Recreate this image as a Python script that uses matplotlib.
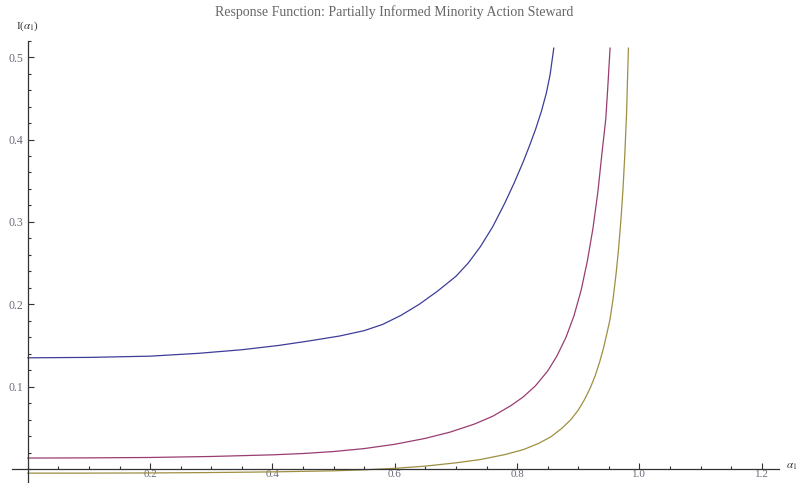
import numpy as np
import matplotlib.pyplot as plt
from matplotlib.ticker import MultipleLocator

plt.rcParams['font.family'] = ['Liberation Serif', 'DejaVu Serif']
plt.rcParams['mathtext.fontset'] = 'stix'

# values
blue_x = [0.0, 0.1, 0.2, 0.28, 0.35, 0.41, 0.46, 0.51, 0.55, 0.58, 0.61, 0.64,
          0.67, 0.70, 0.72, 0.74, 0.76, 0.78, 0.795, 0.81, 0.82, 0.83, 0.84,
          0.848, 0.854, 0.860]
blue_y = [0.135, 0.1355, 0.137, 0.1405, 0.1448, 0.150, 0.1555, 0.1615, 0.168, 0.1755,
          0.1865, 0.200, 0.216, 0.234, 0.250, 0.270, 0.294, 0.323, 0.347, 0.373,
          0.392, 0.412, 0.435, 0.457, 0.479, 0.511]

purple_x = [0.0, 0.1, 0.2, 0.3, 0.4, 0.45, 0.5, 0.55, 0.6, 0.65, 0.69, 0.73, 0.76,
            0.79, 0.81, 0.83, 0.85, 0.865, 0.88, 0.893, 0.905, 0.915, 0.924,
            0.932, 0.939, 0.945, 0.948, 0.952]
purple_y = [0.0133, 0.0135, 0.0140, 0.0152, 0.0172, 0.0188, 0.0212, 0.0248, 0.0300,
            0.0372, 0.0447, 0.0545, 0.064, 0.077, 0.0875, 0.101, 0.119, 0.137,
            0.160, 0.186, 0.218, 0.253, 0.292, 0.336, 0.385, 0.425, 0.460, 0.511]

olive_x = [0.0, 0.1, 0.2, 0.3, 0.4, 0.5, 0.55, 0.6, 0.65, 0.70, 0.74, 0.78, 0.81,
           0.835, 0.855, 0.873, 0.888, 0.90, 0.91, 0.92, 0.928, 0.935, 0.941,
           0.947, 0.952, 0.957, 0.962, 0.966, 0.970, 0.973, 0.976, 0.979, 0.982]
olive_y = [-0.005, -0.005, -0.0048, -0.0043, -0.0035, -0.0022, -0.001, 0.0008,
           0.0035, 0.0075, 0.0115, 0.0175, 0.0235, 0.031, 0.039, 0.0493, 0.060,
           0.0715, 0.084, 0.099, 0.114, 0.130, 0.146, 0.165, 0.182, 0.207, 0.238,
           0.268, 0.305, 0.338, 0.380, 0.432, 0.511]

fig = plt.figure(figsize=(7.98, 4.83), dpi=100)
ax = fig.add_axes([0.015, 0.0, 0.961, 0.9157])

ax.plot(blue_x, blue_y, color='#3d3d99', lw=0.9)
ax.plot(purple_x, purple_y, color='#993d71', lw=0.9)
ax.plot(olive_x, olive_y, color='#9e8f42', lw=0.9)

ax.set_xlim(-0.026, 1.228)
ax.set_ylim(-0.017, 0.52)

for s in ['top', 'right']:
    ax.spines[s].set_visible(False)
ax.spines['left'].set_position(('data', 0))
ax.spines['bottom'].set_position(('data', 0))
for s in ['left', 'bottom']:
    ax.spines[s].set_linewidth(0.9)
    ax.spines[s].set_color('#333333')

ax.xaxis.set_major_locator(MultipleLocator(0.2))
ax.xaxis.set_minor_locator(MultipleLocator(0.05))
ax.yaxis.set_major_locator(MultipleLocator(0.1))
ax.yaxis.set_minor_locator(MultipleLocator(0.02))
ax.tick_params(which='both', direction='in', color='#333333', width=0.8,
               labelsize=8.5, labelcolor='#6a6a7a')
ax.tick_params(which='major', length=4.5)
ax.tick_params(which='minor', length=2.5)
ax.tick_params(axis='x', pad=0.5, labelsize=8)
ax.tick_params(axis='y', pad=3)

ax.set_xticks([0.2, 0.4, 0.6, 0.8, 1.0, 1.2])
ax.set_xticklabels(['0.2', '0.4', '0.6', '0.8', '1.0', '1.2'])
ax.set_yticks([0.1, 0.2, 0.3, 0.4, 0.5])
ax.set_yticklabels(['0.1', '0.2', '0.3', '0.4', '0.5'])

fig.text(0.035, 0.945, r'I($\alpha_1$)', fontsize=8, color='#333333',
         ha='center', va='center')
fig.text(0.992, 0.034, r'$\alpha_1$', fontsize=8, color='#333333',
         ha='center', va='center')

fig.text(0.494, 0.975, 'Response Function: Partially Informed Minority Action Steward',
         fontsize=10, color='#666666', ha='center', va='center')

fig.savefig('out.png', dpi=100)
